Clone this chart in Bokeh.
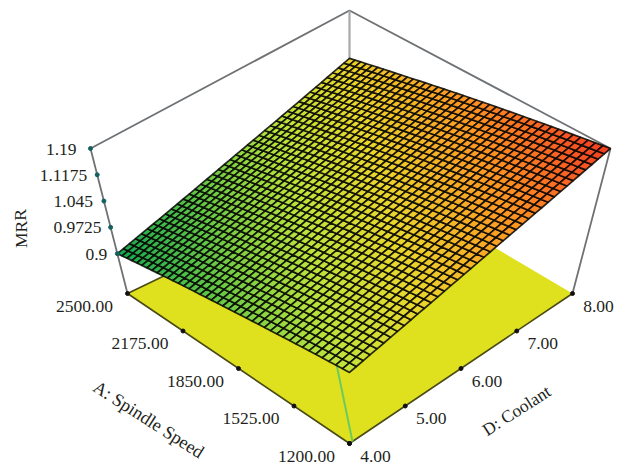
import numpy as np
from bokeh.plotting import figure
from bokeh.models import Range1d
from bokeh.core.properties import value
from bokeh.embed import file_html
from bokeh.resources import INLINE

# Values
spindle_speed = [2500.0, 2175.0, 1850.0, 1525.0, 1200.0]
coolant = [4.0, 5.0, 6.0, 7.0, 8.0]
mrr_ticks = [0.9, 0.9725, 1.045, 1.1175, 1.19]
mrr_floor = 0.79
# MRR estimated at the tick crossings (rows: spindle speed, columns: coolant)
mrr_table = [
    [0.900, 0.943, 0.987, 1.030, 1.074],
    [0.932, 0.975, 1.018, 1.062, 1.103],
    [0.963, 1.006, 1.050, 1.092, 1.133],
    [0.995, 1.038, 1.080, 1.122, 1.162],
    [1.027, 1.069, 1.110, 1.150, 1.190],
]
a_labels = ["2500.00", "2175.00", "1850.00", "1525.00", "1200.00"]
d_labels = ["4.00", "5.00", "6.00", "7.00", "8.00"]
z_labels = ["0.9", "0.9725", "1.045", "1.1175", "1.19"]
MESH = 40  # cells per side; the mesh only resolves the table above for drawing

# Box projection: screen position of the four corners of floor and ceiling
FLOOR = [(127, 293), (349, 443), (572, 293), (349, 175)]
CEIL = [(90, 148), (349, 323), (610, 148), (349, 10)]
FLOOR_BACK_DRAWN = (372, 175)  # hidden corner; sets the slopes of the visible rear edges


def homography(c):
    src = [(0, 0), (1, 0), (1, 1), (0, 1)]
    m, b = [], []
    for (u, v), (x, y) in zip(src, c):
        m.append([u, v, 1, 0, 0, 0, -u * x, -v * x]); b.append(x)
        m.append([0, 0, 0, u, v, 1, -u * y, -v * y]); b.append(y)
    return np.append(np.linalg.solve(np.array(m, float), np.array(b, float)), 1).reshape(3, 3)


HF, HC = homography(FLOOR), homography(CEIL)


def apply(h, u, v):
    w = h[2, 0] * u + h[2, 1] * v + h[2, 2]
    return (h[0, 0] * u + h[0, 1] * v + h[0, 2]) / w, (h[1, 0] * u + h[1, 1] * v + h[1, 2]) / w


def project(a, d, z):
    u = (spindle_speed[0] - a) / (spindle_speed[0] - spindle_speed[-1])
    v = (d - coolant[0]) / (coolant[-1] - coolant[0])
    fx, fy = apply(HF, u, v)
    cx, cy = apply(HC, u, v)
    t = (z - mrr_floor) / (mrr_ticks[-1] - mrr_floor)
    return fx + (cx - fx) * t, fy + (cy - fy) * t


STOPS_Z = [0.90, 0.96, 1.02, 1.07, 1.13, 1.19]
STOPS_C = [(20, 165, 80), (100, 200, 70), (190, 228, 60), (235, 215, 45), (255, 150, 35), (245, 60, 35)]


def colour(z):
    r, g, b = [np.interp(z, STOPS_Z, [c[i] for c in STOPS_C]) for i in range(3)]
    return "#%02x%02x%02x" % (int(r), int(g), int(b))


table = np.array(mrr_table)
a_fine = np.linspace(spindle_speed[0], spindle_speed[-1], MESH + 1)
d_fine = np.linspace(coolant[0], coolant[-1], MESH + 1)
rows = np.array([np.interp(d_fine, coolant, r) for r in table])
grid = np.array([np.interp(a_fine[::-1], spindle_speed[::-1], rows[::-1, j])[::-1] for j in range(MESH + 1)]).T

xs, ys, cols = [], [], []
for i in range(MESH):
    for j in range(MESH):
        cell = [(i, j), (i + 1, j), (i + 1, j + 1), (i, j + 1)]
        pts = [project(a_fine[k], d_fine[l], grid[k, l]) for k, l in cell]
        xs.append([q[0] for q in pts])
        ys.append([q[1] for q in pts])
        cols.append(colour(np.mean([grid[k, l] for k, l in cell])))

p = figure(width=621, height=469, x_range=Range1d(0, 621), y_range=Range1d(469, 0),
           output_backend="svg", toolbar_location=None, min_border=0, outline_line_color=None)
p.xaxis.visible = False
p.yaxis.visible = False
p.grid.visible = False

A0, A1 = spindle_speed[0], spindle_speed[-1]
D0, D1 = coolant[0], coolant[-1]
Z0, Z1 = mrr_floor, mrr_ticks[-1]
corner = [project(a, d, Z0) for a, d in [(A0, D0), (A1, D0), (A1, D1)]] + [FLOOR_BACK_DRAWN]

# Floor
p.patch([c[0] for c in corner], [c[1] for c in corner], fill_color="#dfe01e", line_color=None)
e = [corner[3], corner[0], corner[1], corner[2]]
p.line([c[0] for c in e], [c[1] for c in e], line_color="#4a4a14", line_width=1.6)

# Frame
grey = "#6f7275"
fr = [project(A0, D0, Z0), project(A0, D0, Z1), project(A0, D1, Z1), project(A1, D1, Z1), project(A1, D1, Z0)]
p.line([c[0] for c in fr], [c[1] for c in fr], line_color=grey, line_width=1.8)
bk = [project(A0, D1, Z1), project(A0, D1, Z0)]
p.line([c[0] for c in bk], [c[1] for c in bk], line_color="#a6a8aa", line_width=2.2)

# Green edge from the floor corner up to the surface
g = [project(A1, D0, Z0), project(1260.0, D0, grid[-3, 0])]
p.line([g[0][0] + 3, g[1][0]], [g[0][1] - 2, g[1][1]], line_color="#6ccb5f", line_width=2)

# Surface
p.patches(xs, ys, fill_color=cols, line_color="#060602", line_width=1.7, line_alpha=0.85)

# Ticks: evenly spaced along the front floor edges, as in the reference
zt = [project(A0, D0, z) for z in mrr_ticks]
p.scatter([c[0] for c in zt], [c[1] for c in zt], size=4, color="#15605f")
c0, c1, c2 = corner[0], corner[1], corner[2]
at = [(np.interp(a, [A1, A0], [c1[0], c0[0]]), np.interp(a, [A1, A0], [c1[1], c0[1]])) for a in spindle_speed]
dt = [(np.interp(d, [D0, D1], [c1[0], c2[0]]), np.interp(d, [D0, D1], [c1[1], c2[1]])) for d in coolant]
p.scatter([c[0] for c in at + dt], [c[1] for c in at + dt], size=4, color="#111111")

FONT = value("Liberation Serif")
FS = "17.5px"
ink = "#231f20"
z_dx = [-10, -9, -11, -10, -14]
p.text([c[0] + d for c, d in zip(zt, z_dx)], [c[1] + 0.5 for c in zt], text=z_labels, text_align="right",
       text_baseline="middle", text_font=FONT, text_font_size=FS, text_color=ink)
p.text([c[0] - 43 for c in at], [c[1] + 12.5 for c in at], text=a_labels, text_align="center", text_baseline="middle",
       text_font=FONT, text_font_size=FS, text_color=ink)
p.text([c[0] + 26 for c in dt], [c[1] + 12.5 for c in dt], text=d_labels, text_align="center",
       text_baseline="middle", text_font=FONT, text_font_size=FS, text_color=ink)
p.text([20], [228], text=["MRR"], angle=[np.pi / 2], text_align="center", text_baseline="middle",
       text_font=FONT, text_font_size=FS, text_color=ink)
p.text([148], [419], text=["A: Spindle Speed"], angle=[-0.57], text_align="center", text_baseline="middle",
       text_font=FONT, text_font_size="18.2px", text_color=ink)
p.text([516], [410], text=["D: Coolant"], angle=[0.57], text_align="center", text_baseline="middle",
       text_font=FONT, text_font_size=FS, text_color=ink)

open("out.html", "w").write(file_html(p, INLINE))
